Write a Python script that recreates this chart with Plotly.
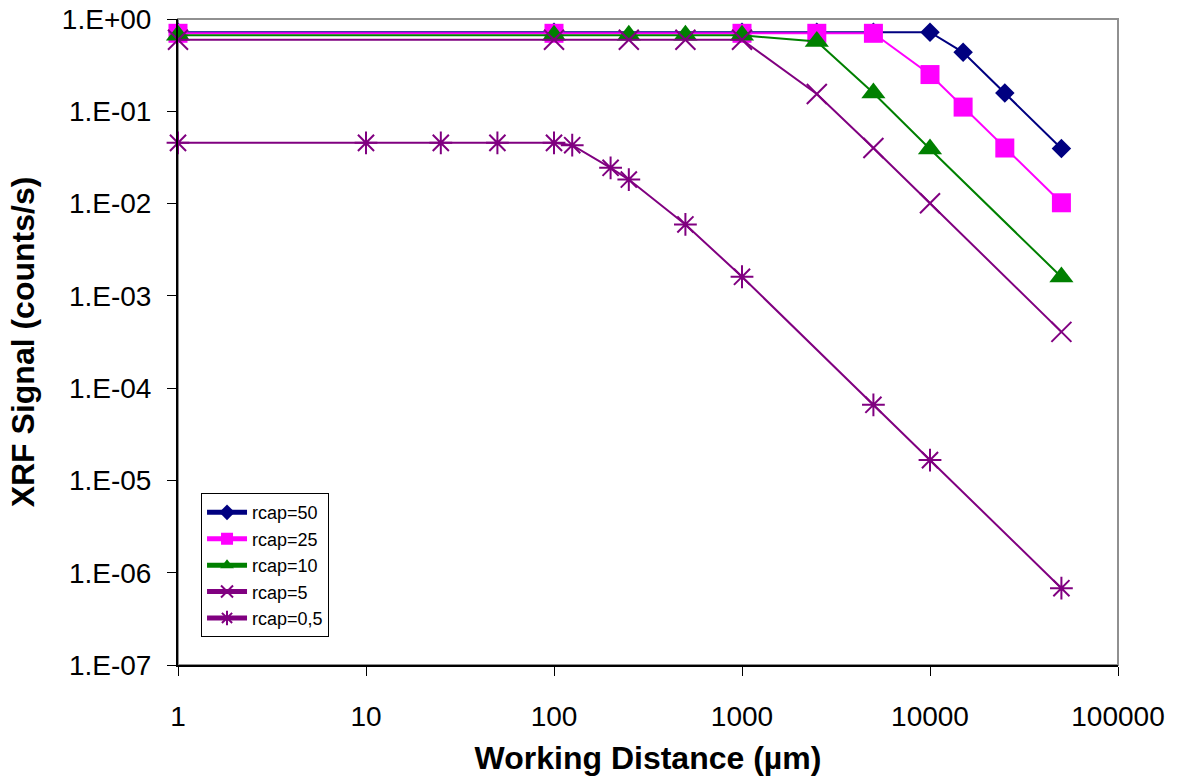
import plotly.graph_objects as go

# ---- data ----
x_r50 = [1, 100, 1000, 2500, 5000, 10000, 15000, 25000, 50000]
y_r50 = [0.72, 0.72, 0.72, 0.72, 0.72, 0.72, 0.435, 0.158, 0.0396]

x_r25 = [1, 100, 1000, 2500, 5000, 10000, 15000, 25000, 50000]
y_r25 = [0.70, 0.70, 0.70, 0.70, 0.70, 0.25, 0.111, 0.040, 0.0102]

x_r10 = [1, 100, 250, 500, 1000, 2500, 5000, 10000, 50000]
y_r10 = [0.665, 0.665, 0.665, 0.665, 0.665, 0.57, 0.158, 0.039, 0.0016]

x_r5 = [1, 100, 250, 500, 1000, 2500, 5000, 10000, 50000]
y_r5 = [0.597, 0.597, 0.597, 0.597, 0.597, 0.154, 0.040, 0.0101, 0.000407]

x_r05 = [1, 10, 25, 50, 100, 125, 200, 250, 500, 1000, 5000, 10000, 50000]
y_r05 = [0.0455, 0.0455, 0.0455, 0.0455, 0.0455, 0.0429, 0.0244, 0.0182,
         0.00594, 0.00161, 0.000066, 0.0000166, 0.00000068]

series_names = ["rcap=50", "rcap=25", "rcap=10", "rcap=5", "rcap=0,5"]

x_tickvals = [1, 10, 100, 1000, 10000, 100000]
x_ticktext = ["1", "10", "100", "1000", "10000", "100000"]
y_tickvals = [1, 1e-1, 1e-2, 1e-3, 1e-4, 1e-5, 1e-6, 1e-7]
y_ticktext = ["1.E+00", "1.E-01", "1.E-02", "1.E-03", "1.E-04", "1.E-05", "1.E-06", "1.E-07"]

# ---- styles ----
styles = [
    dict(color="#000080", symbol="diamond", size=15, lw=0),
    dict(color="#FF00FF", symbol="square", size=19, lw=0),
    dict(color="#008000", symbol="triangle-up", size=21, lw=0),
    dict(color="#800080", symbol="x-thin", size=20, lw=2),
    dict(color="#800080", symbol="asterisk", size=19, lw=2),
]

xs = [x_r50, x_r25, x_r10, x_r5, x_r05]
ys = [y_r50, y_r25, y_r10, y_r5, y_r05]

fig = go.Figure()
for name, xv, yv, st in zip(series_names, xs, ys, styles):
    marker = dict(symbol=st["symbol"], size=st["size"], color=st["color"])
    if st["lw"]:
        marker["line"] = dict(color=st["color"], width=st["lw"])
    fig.add_trace(go.Scatter(
        x=xv, y=yv, name=name, mode="lines+markers",
        line=dict(color=st["color"], width=2),
        marker=marker, cliponaxis=False,
    ))

fig.add_shape(type="rect", xref="paper", yref="paper", x0=0, y0=0, x1=1, y1=1,
              line=dict(color="#909090", width=2), layer="below")

font_main = "Liberation Sans, Arial, sans-serif"
fig.update_layout(
    width=1180, height=781,
    margin=dict(l=178, r=62, t=19, b=116, autoexpand=False),
    paper_bgcolor="white", plot_bgcolor="white",
    font=dict(family=font_main, color="black"),
    showlegend=True,
    legend=dict(
        x=0.0245, y=0.266, xanchor="left", yanchor="top",
        bordercolor="black", borderwidth=1, bgcolor="white",
        font=dict(size=18, family=font_main), tracegroupgap=0,
        itemsizing="constant", itemwidth=40,
    ),
    xaxis=dict(
        type="log", range=[0, 5], tickvals=x_tickvals, ticktext=x_ticktext,
        showgrid=False, zeroline=False, showline=True, linecolor="black", linewidth=2,
        ticks="outside", ticklen=9, tickcolor="black", tickwidth=1,
        tickfont=dict(size=28), ticklabelstandoff=16, automargin=False,
        title=dict(text="<b>Working Distance (µm)</b>", font=dict(size=32), standoff=16),
    ),
    yaxis=dict(
        type="log", range=[-7, 0], tickvals=y_tickvals, ticktext=y_ticktext,
        showgrid=False, zeroline=False, showline=True, linecolor="black", linewidth=2,
        ticks="outside", ticklen=9, tickcolor="black", tickwidth=1,
        tickfont=dict(size=28), ticklabelstandoff=10, automargin=False,
        title=dict(text="<b>XRF Signal (counts/s)</b>", font=dict(size=32), standoff=18),
    ),
)

fig.write_html("out.html", config={"displayModeBar": False},
               post_script="document.body.style.margin='0';")
